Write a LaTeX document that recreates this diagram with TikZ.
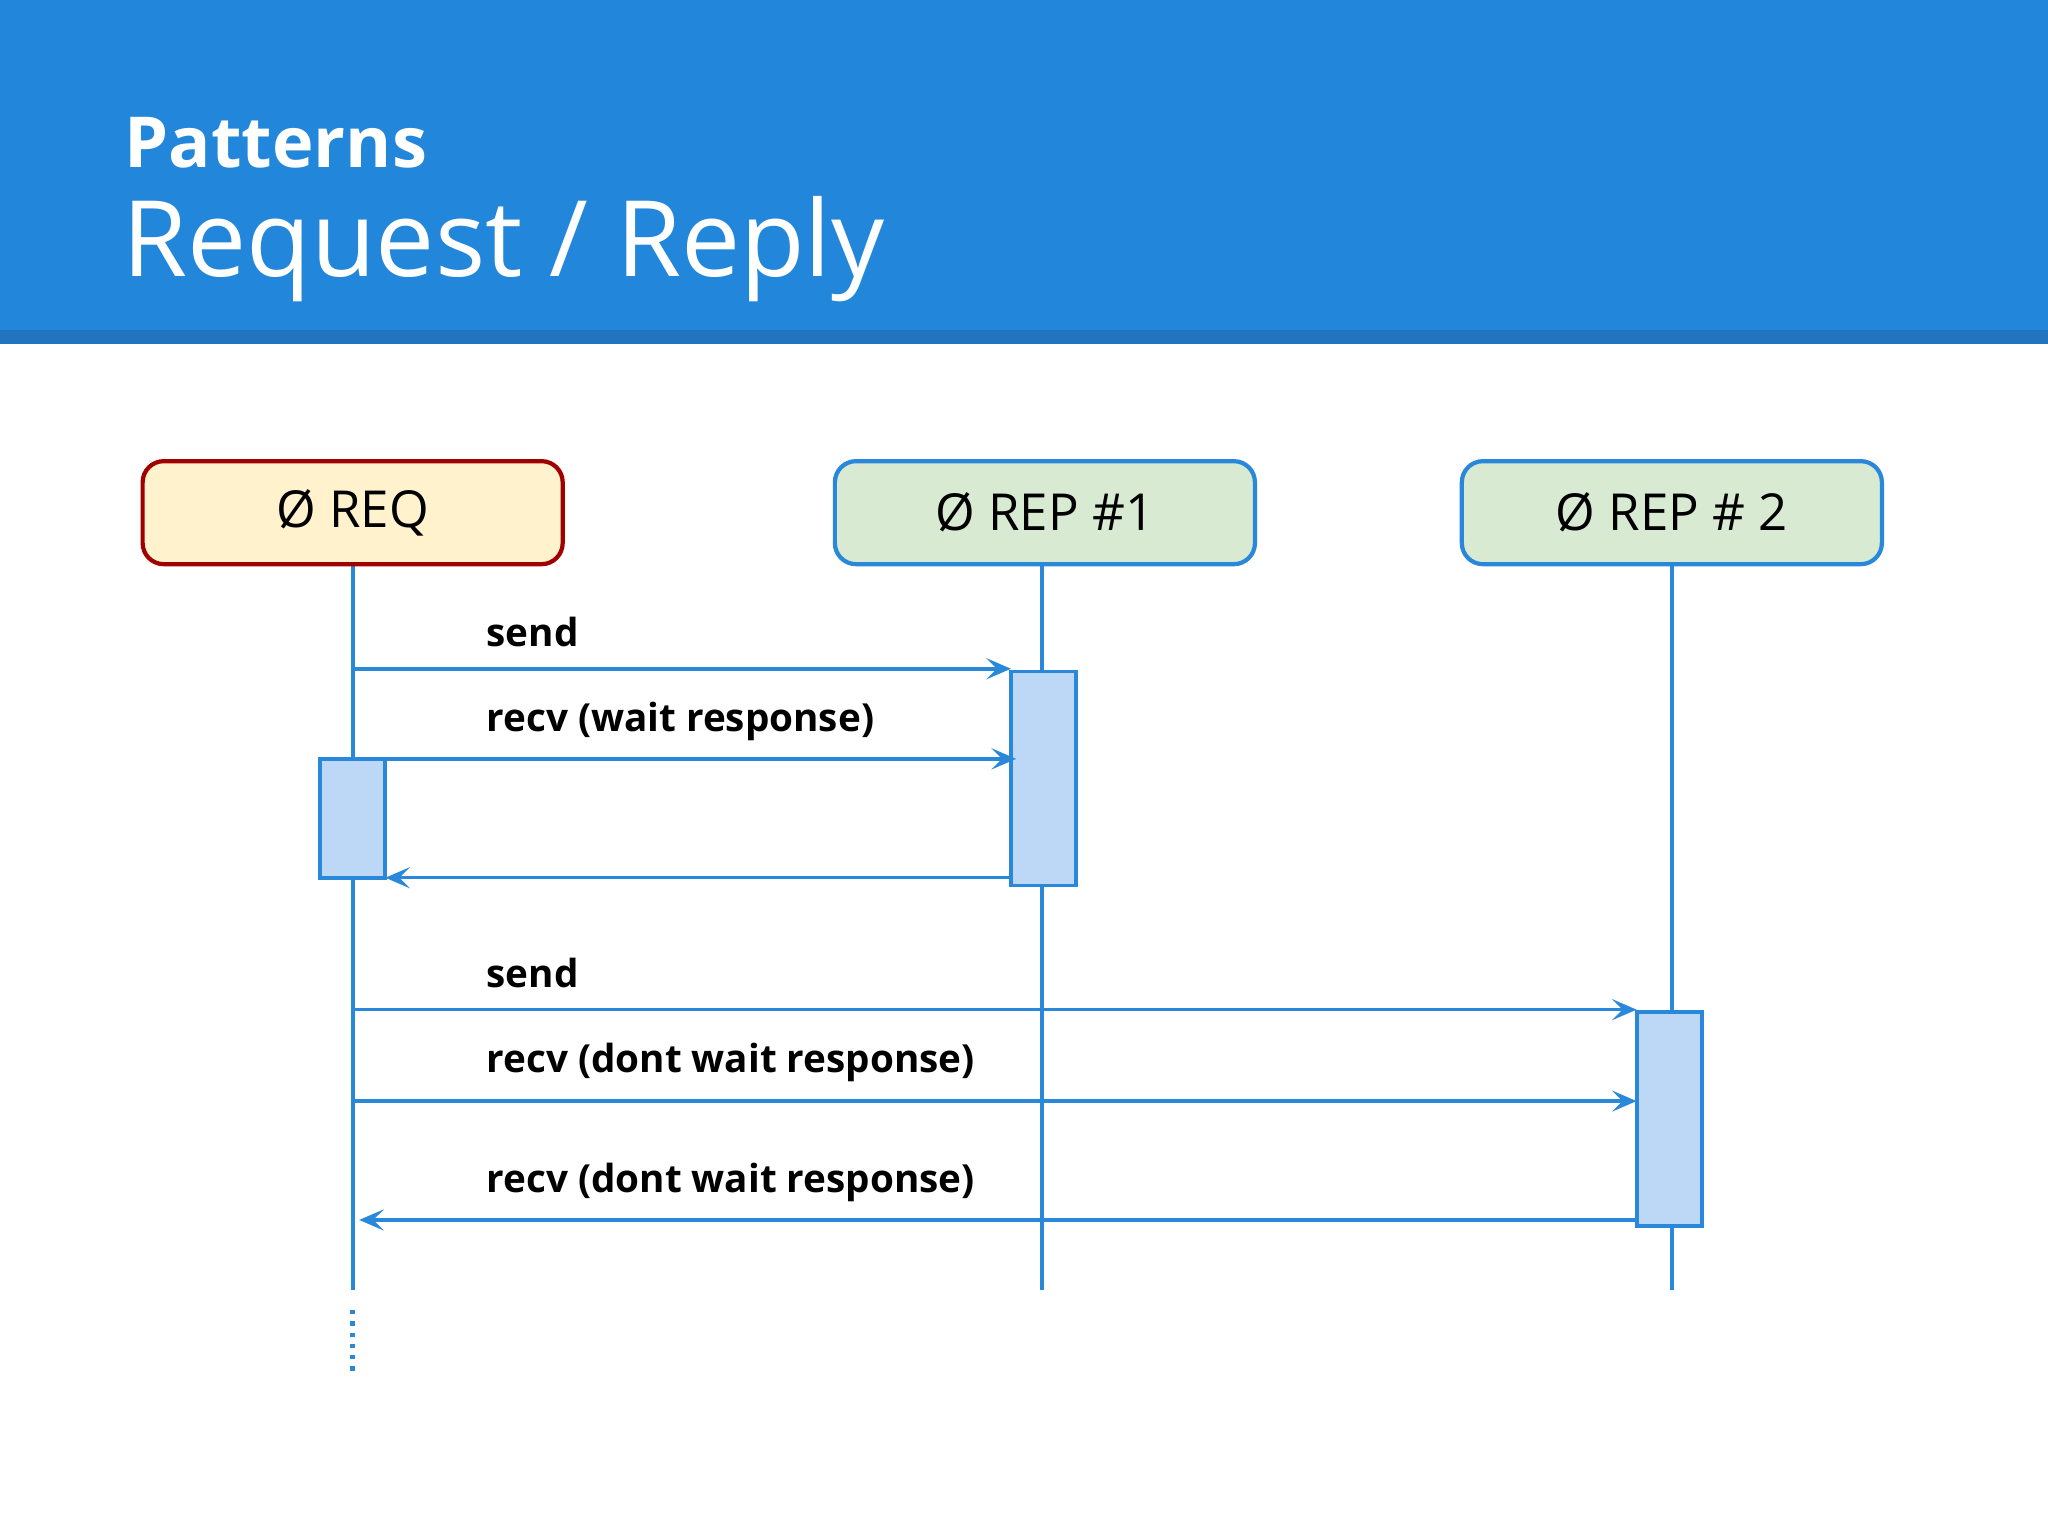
\documentclass[tikz,border=0pt]{standalone}
\usepackage{fontspec}
\setmainfont{Open Sans}
\usetikzlibrary{arrows.meta,positioning}
\definecolor{headblue}{HTML}{2287DB}
\definecolor{headdark}{HTML}{2274BE}
\definecolor{lineblue}{HTML}{2A88DB}
\definecolor{actfill}{HTML}{BDD7F7}
\definecolor{reqfill}{HTML}{FFF2CC}
\definecolor{reqdraw}{HTML}{A00000}
\definecolor{repfill}{HTML}{D9EAD3}
\tikzset{
  actor/.style={draw, rounded corners=6pt, line width=1.2pt, minimum width=4.2cm,
    minimum height=1.03cm, font=\fontsize{14.5}{16}\selectfont},
  life/.style={lineblue, line width=1.2pt},
  act/.style={draw=lineblue, fill=actfill, line width=1.1pt, minimum width=0.65cm, inner sep=0pt},
  msg/.style={lineblue, line width=1pt, -{Stealth[length=7pt,width=6pt,inset=3pt]}},
  lbl/.style={font=\bfseries\fontsize{11}{13}\selectfont, anchor=base west}
}
\begin{document}
\begin{tikzpicture}[x=0.1306mm, y=-0.1306mm]
	\useasboundingbox (0,0) rectangle (1568,1176);
	
	% Header
	\fill[headblue] (0,0) rectangle (1568,253);
	\fill[headdark] (0,253) rectangle (1568,263);
	\node[white, anchor=base west, inner sep=0pt, font=\bfseries\fontsize{20}{22}\selectfont] (sub) at (95,128) {Patterns};
	\node[white, anchor=base west, inner sep=0pt, font=\fontsize{30}{34}\selectfont] (title) at (93,212) {Request / Reply};
	
	% Lifelines
	\def\lifeEnd{988}
	\draw[life] (270,432) -- (270,\lifeEnd);
	\draw[life] (798,432) -- (798,\lifeEnd);
	\draw[life] (1280,432) -- (1280,\lifeEnd);
	\draw[life, dotted, line width=1.6pt] (270,1003) -- (270,1050);
	
	% Actors
	\node[actor, fill=reqfill, draw=reqdraw] (req) at (270,392.5) {Ø REQ};
	\node[actor, fill=repfill, draw=lineblue] (rep1) at (800,392.5) {Ø REP \#1};
	\node[actor, fill=repfill, draw=lineblue] (rep2) at (1280,392.5) {Ø REP \# 2};
	
	% Activations
	\node[act, minimum height=2.14cm] (a1) at (799,596) {};
	\node[act, minimum height=1.19cm] (a0) at (270,626.5) {};
	\node[act, minimum height=2.14cm] (a2) at (1278,857) {};
	
	% Message end points
	\coordinate (s1) at (270,512);   \coordinate (t1) at (774,512);
	\coordinate (s2) at (270,581);   \coordinate (t2) at (778,581);
	\coordinate (s3) at (774,672);   \coordinate (t3) at (295,672);
	\coordinate (s4) at (270,773);   \coordinate (t4) at (1253,773);
	\coordinate (s5) at (270,843);   \coordinate (t5) at (1253,843);
	\coordinate (s6) at (1253,934);  \coordinate (t6) at (275,934);
	
	% Messages
	\foreach \m in {1,...,6} {
		\draw[msg] (s\m) -- (t\m);
	}
	
	% Labels
	\node[lbl, inner sep=0pt] (l1) at (372,495) {send};
	\node[lbl, inner sep=0pt] (l2) at (372,560) {recv (wait response)};
	\node[lbl, inner sep=0pt] (l4) at (372,756) {send};
	\node[lbl, inner sep=0pt] (l5) at (372,821) {recv (dont wait response)};
	\node[lbl, inner sep=0pt] (l6) at (372,913) {recv (dont wait response)};
\end{tikzpicture}
\end{document}
